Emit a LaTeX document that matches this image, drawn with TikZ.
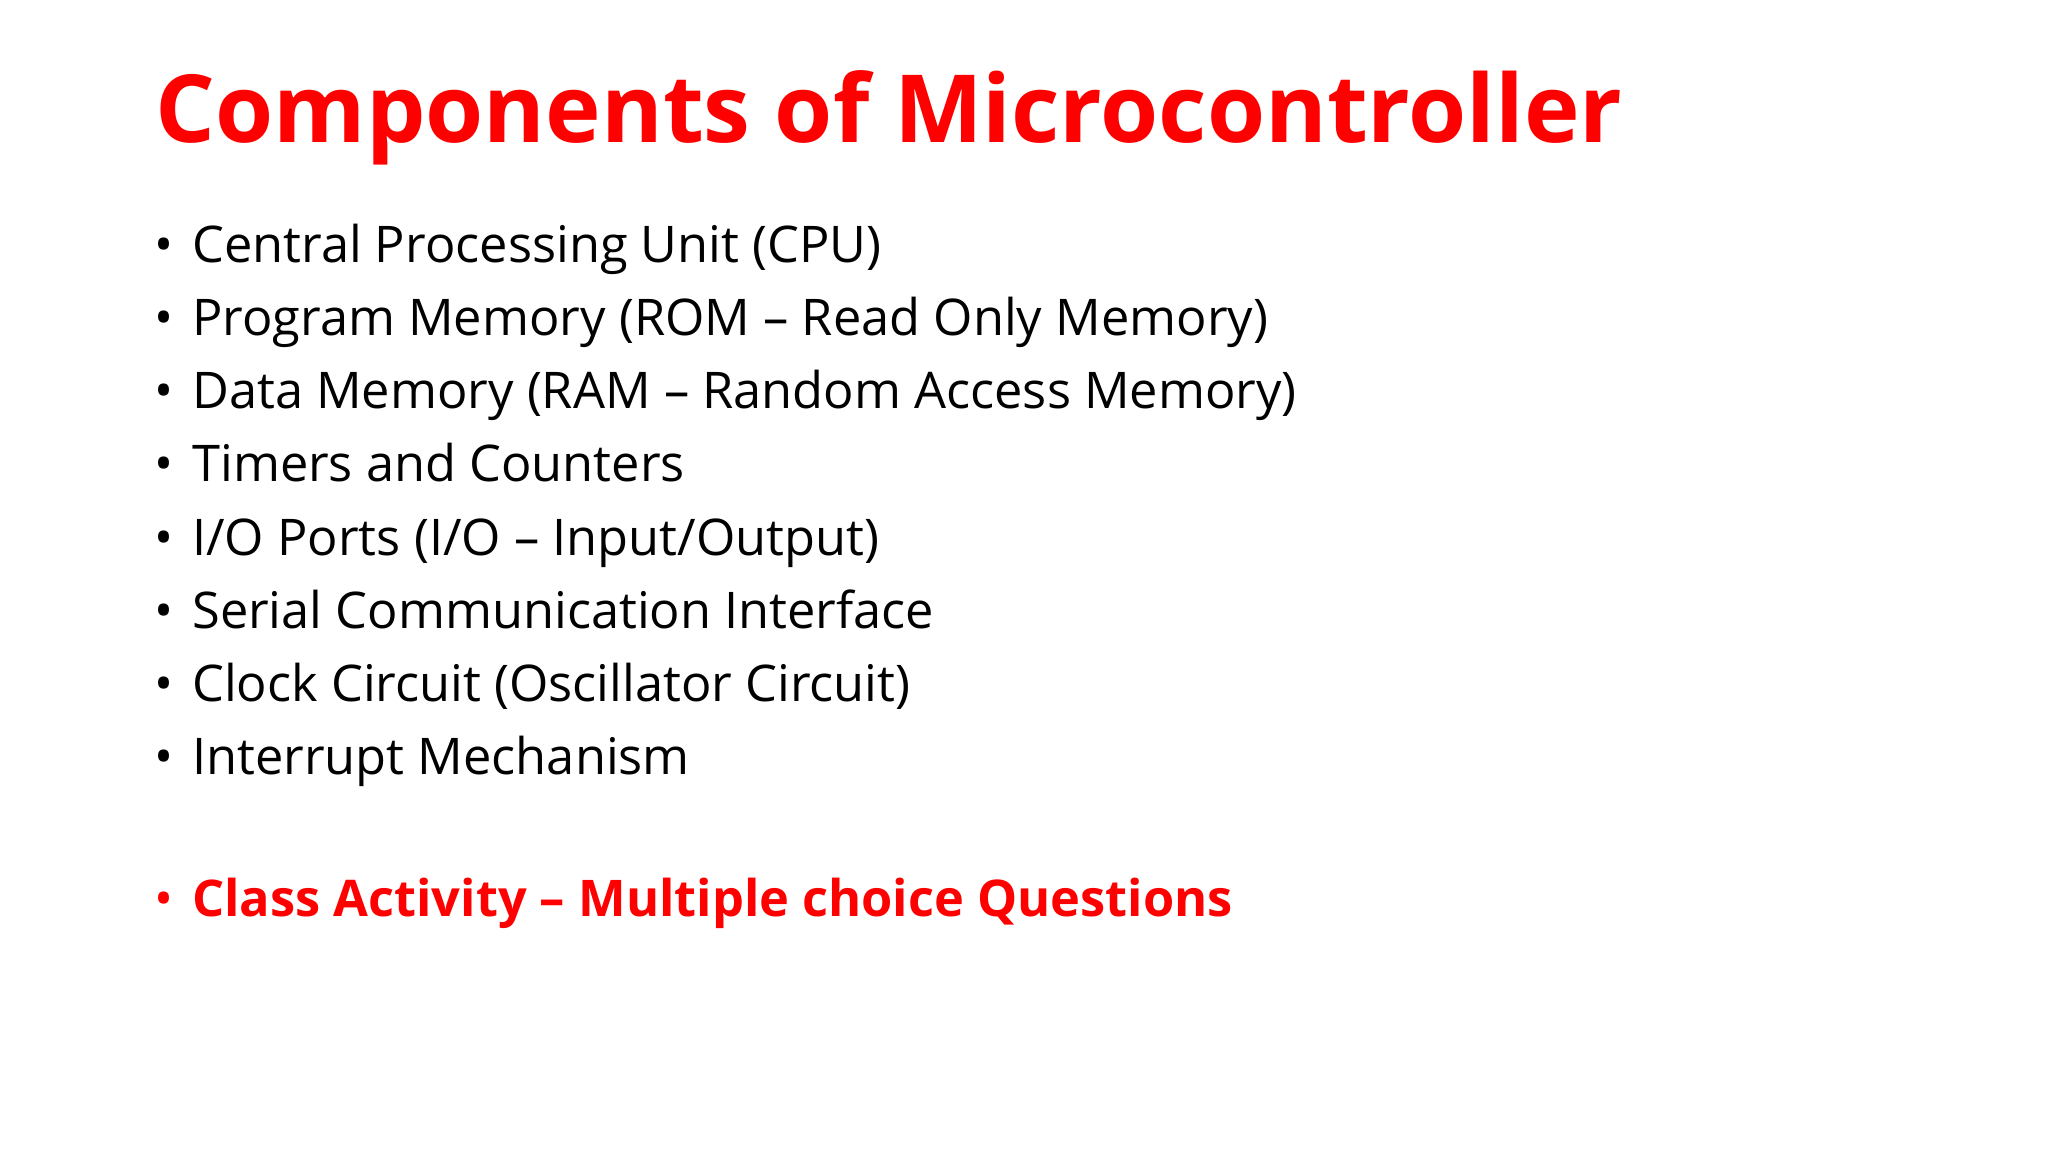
\documentclass[tikz,border=0pt]{standalone}
\usepackage{fontspec}
\setmainfont{Open Sans}
\definecolor{tred}{RGB}{255,0,0}
\begin{document}
\begin{tikzpicture}[x=1pt,y=-1pt,
  item/.style={anchor=base west,inner sep=0pt,font=\fontsize{38.7}{39}\selectfont},
  dot/.style={anchor=base west,inner sep=0pt,font=\fontsize{38.7}{39}\selectfont}]
\useasboundingbox (0,0) rectangle (1568,882);
\node[anchor=base west,inner sep=0pt,text=tred,font=\fontsize{72}{72}\selectfont\bfseries] (title) at (119,109) {Components of Microcontroller};
\foreach \t [count=\i] in {Central Processing Unit (CPU),Program Memory (ROM – Read Only Memory),Data Memory (RAM – Random Access Memory),Timers and Counters,I/O Ports (I/O – Input/Output),Serial Communication Interface,Clock Circuit (Oscillator Circuit),Interrupt Mechanism}{
  \node[dot] (b\i) at (118,{145+56*\i}) {•};
  \node[item] (t\i) at (147,{145+56*\i}) {\t};
}
\node[dot,text=tred] (b9) at (118,702) {•};
\node[item,text=tred,font=\fontsize{38.7}{39}\selectfont\bfseries] (t9) at (147,702) {Class Activity – Multiple choice Questions};
\end{tikzpicture}
\end{document}
